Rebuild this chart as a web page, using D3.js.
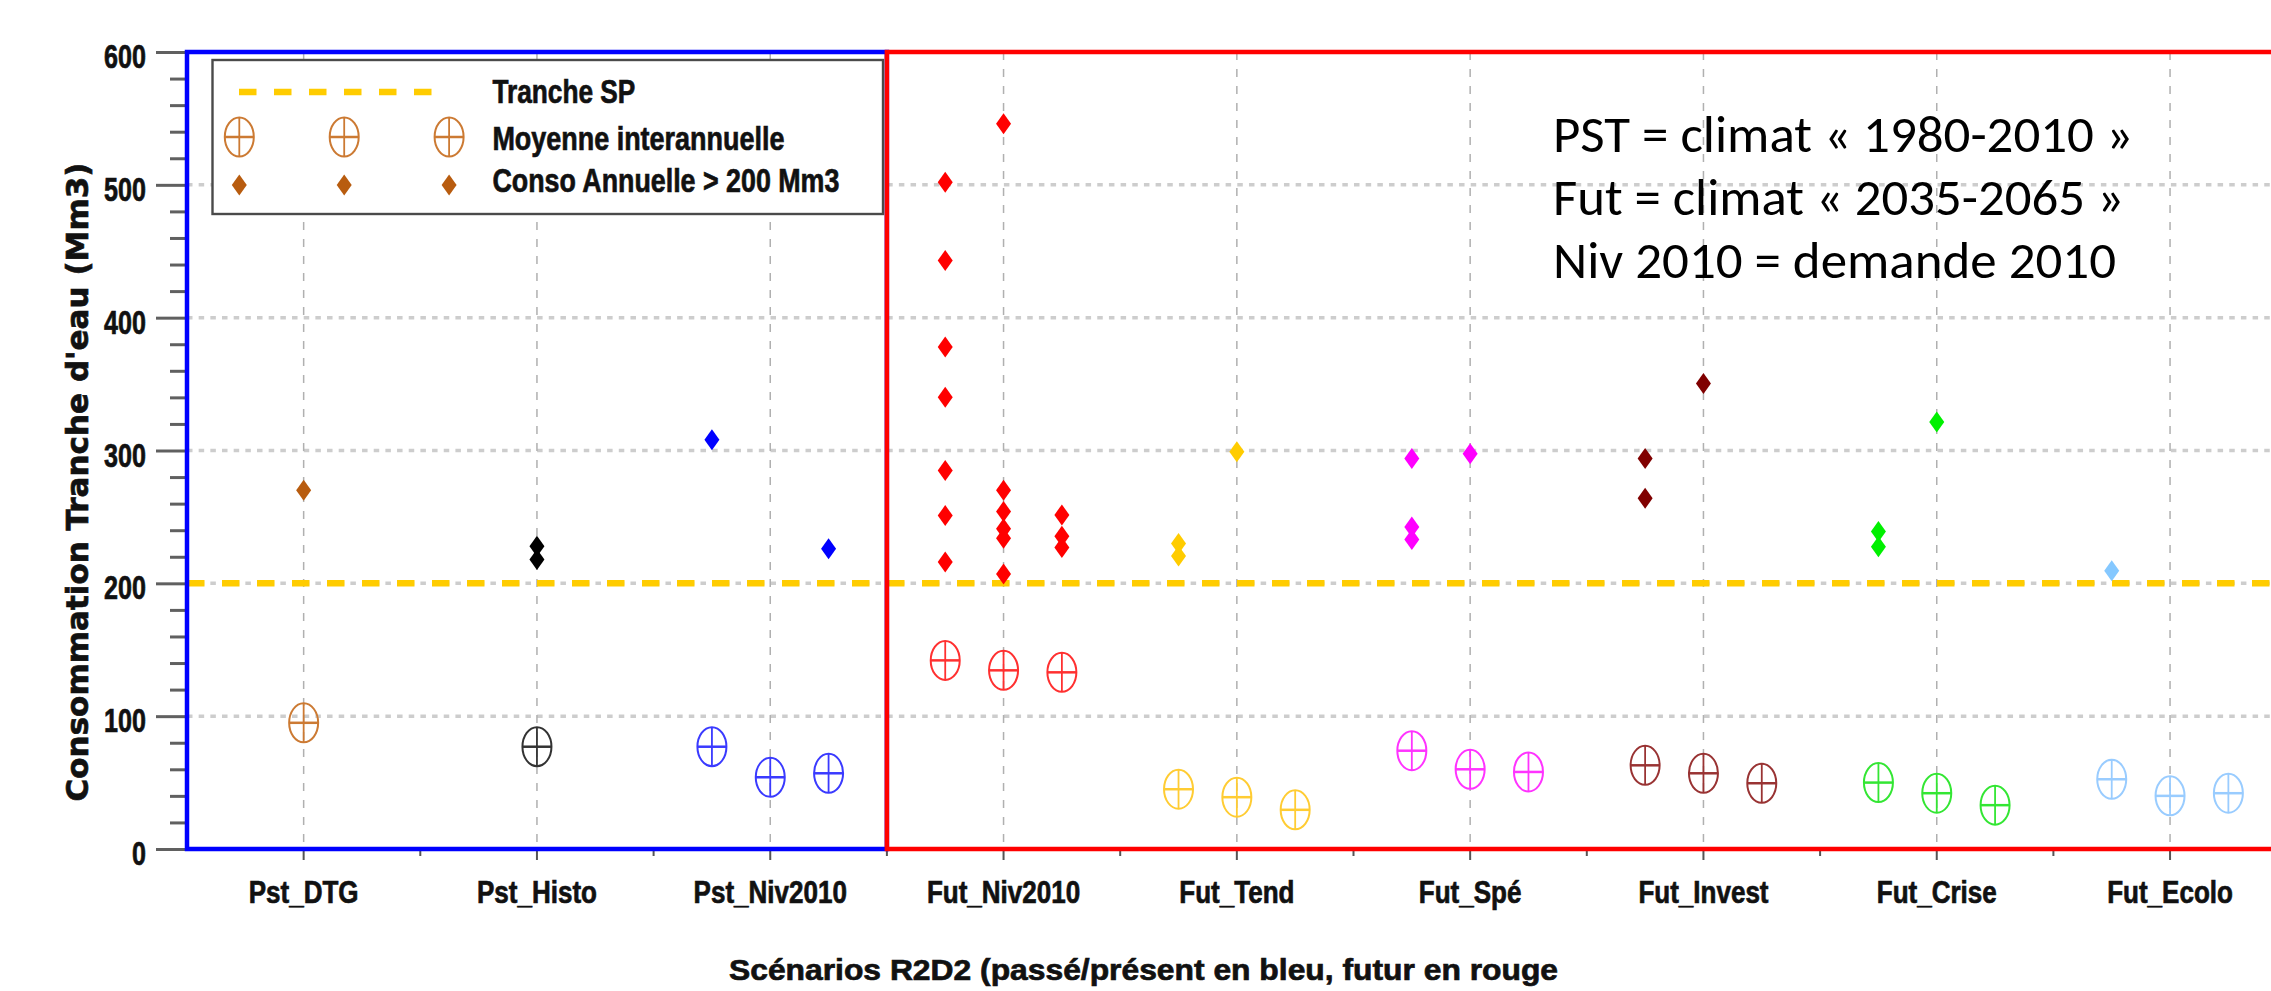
<!DOCTYPE html>
<html>
<head>
<meta charset="utf-8">
<script src="https://cdn.jsdelivr.net/npm/d3@7"></script>
<style>
  html, body { margin: 0; padding: 0; background: #ffffff; }
  svg { display: block; }
</style>
</head>
<body>
<svg id="chart" width="2271" height="991"></svg>
<script>
// ---------- DATA ----------
const categories = ["Pst_DTG", "Pst_Histo", "Pst_Niv2010", "Fut_Niv2010", "Fut_Tend", "Fut_Spé", "Fut_Invest", "Fut_Crise", "Fut_Ecolo"];
const yTickValues = [0, 100, 200, 300, 400, 500, 600];
const thresholdValue = 200;

// Moyenne interannuelle : [gauche, centre, droite] par scénario
const meanValues = [
  [null, 95, null],
  [null, 77, null],
  [77, 54, 57],
  [142, 134.5, 133],
  [45, 39, 29.5],
  [74, 60, 58],
  [63, 57, 49.5],
  [50, 42, 33],
  [52.5, 40, 42]
];

// Conso annuelle > 200 Mm3 : [gauche, centre, droite] par scénario
const annualValues = [
  [[], [270], []],
  [[], [228, 218], []],
  [[308], [], [226]],
  [[502, 443, 378, 340, 285, 251, 216], [546, 270, 254, 241, 234, 207], [251.5, 235.5, 227]],
  [[230, 220.5], [299], []],
  [[294, 242.5, 233], [297.5], []],
  [[294, 264], [350.5], []],
  [[239, 227.5], [321.5], []],
  [[209.5], [], []]
];

const meanColors = ["#cc7a33", "#333333", "#3a3aff", "#ff3030", "#ffcc33", "#ff33ff", "#993333", "#33e633", "#99ccff"];
const diamondColors = ["#b85c0f", "#000000", "#0000ff", "#ff0000", "#ffcc00", "#ff00ff", "#800000", "#00f000", "#85c8ff"];

const legendLabels = ["Tranche SP", "Moyenne interannuelle", "Conso Annuelle > 200 Mm3"];
const notes = ["PST = climat « 1980-2010 »", "Fut = climat « 2035-2065 »", "Niv 2010 = demande 2010"];
const xTitle = "Scénarios R2D2 (passé/présent en bleu, futur en rouge";
const yTitle = "Consommation Tranche d'eau (Mm3)";

// ---------- LAYOUT ----------
const W = 2271, H = 991;
const plotLeft = 187, plotTop = 52, plotBottom = 849;
const bandW = 233.3;
const svg = d3.select("#chart");
svg.append("rect").attr("width", W).attr("height", H).attr("fill", "#fff");

const x = d3.scaleBand().domain(categories).range([plotLeft, plotLeft + bandW * categories.length]).padding(0);
const y = d3.scaleLinear().domain([0, 600]).range([plotBottom, plotTop]);
const bw = x.bandwidth();
const cx = c => x(c) + bw / 2;
const subX = (c, k) => cx(c) + (k - 1) * bw / 4;
const plotRight = x.range()[1];
const splitX = x(categories[3]);

const boldFont = "'Liberation Sans', Arial, Helvetica, sans-serif";
const heavy = sel => sel.attr("stroke", "#111").attr("stroke-width", 0.7);

// ---------- GRID ----------
const grid = svg.append("g");
grid.selectAll("line.h").data(yTickValues.filter(v => v > 0 && v < 600)).join("line")
  .attr("x1", plotLeft).attr("x2", plotRight)
  .attr("y1", d => y(d)).attr("y2", d => y(d))
  .attr("stroke", "#cdcdcd").attr("stroke-width", 3.5).attr("stroke-dasharray", "5.5,6.17");
grid.selectAll("line.v").data(categories).join("line")
  .attr("x1", d => cx(d)).attr("x2", d => cx(d))
  .attr("y1", plotTop).attr("y2", plotBottom)
  .attr("stroke", "#b0b0b0").attr("stroke-width", 1.5).attr("stroke-dasharray", "8,9");

// ---------- THRESHOLD LINE ----------
svg.append("line")
  .attr("x1", plotLeft).attr("x2", plotRight)
  .attr("y1", y(thresholdValue)).attr("y2", y(thresholdValue))
  .attr("stroke", "#ffcc00").attr("stroke-width", 6.5).attr("stroke-dasharray", "17.5,17.5");

// ---------- AXES ----------
const yMajor = d3.axisLeft(y).tickValues(yTickValues).tickSize(31).tickFormat("");
const yMinor = d3.axisLeft(y).tickValues(d3.range(0, 601, 20).filter(v => v % 100 !== 0)).tickSize(17).tickFormat("");
const gy1 = svg.append("g").attr("transform", `translate(${plotLeft},0)`).call(yMajor);
const gy2 = svg.append("g").attr("transform", `translate(${plotLeft},0)`).call(yMinor);
[gy1, gy2].forEach(g => {
  g.select(".domain").remove();
  g.selectAll(".tick line").attr("stroke", "#606060").attr("stroke-width", 3);
});
svg.append("g").selectAll("text").data(yTickValues).join("text")
  .attr("transform", d => `translate(146,${y(d) + 16}) scale(0.75,1)`)
  .attr("text-anchor", "end")
  .attr("font-family", boldFont).attr("font-weight", "bold").attr("font-size", 33.5)
  .attr("fill", "#111").call(heavy).text(d => d);

const xAxis = d3.axisBottom(x).tickSize(11).tickFormat("");
const gx = svg.append("g").attr("transform", `translate(0,${plotBottom})`).call(xAxis);
gx.select(".domain").remove();
gx.selectAll(".tick line").attr("stroke", "#555").attr("stroke-width", 2);
svg.append("g").selectAll("line").data(categories.slice(1)).join("line")
  .attr("x1", d => x(d)).attr("x2", d => x(d))
  .attr("y1", plotBottom).attr("y2", plotBottom + 7)
  .attr("stroke", "#555").attr("stroke-width", 2);
svg.append("g").selectAll("text").data(categories).join("text")
  .attr("transform", d => `translate(${cx(d)},902.5) scale(0.84,1)`)
  .attr("text-anchor", "middle")
  .attr("font-family", boldFont).attr("font-weight", "bold").attr("font-size", 31)
  .attr("fill", "#111").call(heavy).text(d => d);

// ---------- BORDERS ----------
svg.append("rect").attr("x", plotLeft).attr("y", plotTop)
  .attr("width", splitX - plotLeft).attr("height", plotBottom - plotTop)
  .attr("fill", "none").attr("stroke", "#0000ff").attr("stroke-width", 4.5);
svg.append("rect").attr("x", splitX).attr("y", plotTop)
  .attr("width", plotRight + 20 - splitX).attr("height", plotBottom - plotTop)
  .attr("fill", "none").attr("stroke", "#ff0000").attr("stroke-width", 4.5);

// ---------- SYMBOLS ----------
const RX = 14.5, RY = 19.5;
function drawMean(g, px, py, color) {
  const s = g.append("g").attr("transform", `translate(${px},${py})`);
  s.append("ellipse").attr("rx", RX).attr("ry", RY).attr("fill", "none").attr("stroke", color).attr("stroke-width", 2);
  s.append("line").attr("x1", 0).attr("x2", 0).attr("y1", -RY).attr("y2", RY).attr("stroke", color).attr("stroke-width", 1.8);
  s.append("line").attr("x1", -RX).attr("x2", RX).attr("y1", 0).attr("y2", 0).attr("stroke", color).attr("stroke-width", 2.5);
}
const diamondPath = "M0,-10.5L7.5,0L0,10.5L-7.5,0Z";
function drawDiamond(g, px, py, color) {
  g.append("path").attr("d", diamondPath).attr("transform", `translate(${px},${py})`).attr("fill", color);
}

// ---------- MARKS ----------
const marks = svg.append("g");
categories.forEach((c, i) => {
  meanValues[i].forEach((v, k) => {
    if (v !== null) drawMean(marks, subX(c, k), y(v), meanColors[i]);
  });
});
categories.forEach((c, i) => {
  annualValues[i].forEach((vals, k) => {
    vals.forEach(v => drawDiamond(marks, subX(c, k), y(v), diamondColors[i]));
  });
});

// ---------- LEGEND ----------
const lg = svg.append("g");
lg.append("rect").attr("x", 212.5).attr("y", 60).attr("width", 670.5).attr("height", 154)
  .attr("fill", "#fff").attr("stroke", "#4a4a4a").attr("stroke-width", 2.4);
lg.append("line").attr("x1", 239).attr("x2", 433).attr("y1", 92).attr("y2", 92)
  .attr("stroke", "#ffcc00").attr("stroke-width", 6.5).attr("stroke-dasharray", "17.5,17.5");
[239.3, 344.2, 449.1].forEach(px => drawMean(lg, px, 137, meanColors[0]));
[239.3, 344.2, 449.1].forEach(px => drawDiamond(lg, px, 185, diamondColors[0]));
const legendBase = [103.3, 150, 191.7];
const legendLen = [143, 292, 347];
lg.selectAll("text").data(legendLabels).join("text")
  .attr("x", 492.4).attr("y", (d, i) => legendBase[i])
  .attr("textLength", (d, i) => legendLen[i]).attr("lengthAdjust", "spacingAndGlyphs")
  .attr("font-family", boldFont).attr("font-weight", "bold").attr("font-size", 34)
  .attr("fill", "#111").call(heavy).text(d => d);

// ---------- NOTES ----------
const noteBase = [151.7, 215, 278.3];
const noteLen = [580, 571, 563];
svg.append("g").selectAll("text").data(notes).join("text")
  .attr("x", 1553).attr("y", (d, i) => noteBase[i])
  .attr("textLength", (d, i) => noteLen[i]).attr("lengthAdjust", "spacingAndGlyphs")
  .attr("font-family", "Carlito, Lato, 'Open Sans', sans-serif").attr("font-size", 51)
  .attr("fill", "#000").text(d => d);

// ---------- TITLES ----------
svg.append("text")
  .attr("x", 1143.5).attr("y", 980).attr("text-anchor", "middle")
  .attr("textLength", 829).attr("lengthAdjust", "spacingAndGlyphs")
  .attr("font-family", boldFont).attr("font-weight", "bold").attr("font-size", 29.5)
  .attr("fill", "#111").call(heavy).text(xTitle);
svg.append("text")
  .attr("transform", "translate(88,482) rotate(-90)").attr("text-anchor", "middle")
  .attr("textLength", 639).attr("lengthAdjust", "spacingAndGlyphs")
  .attr("font-family", "'DejaVu Sans', sans-serif").attr("font-weight", "bold").attr("font-size", 31)
  .attr("fill", "#111").call(heavy).text(yTitle);
</script>
</body>
</html>
